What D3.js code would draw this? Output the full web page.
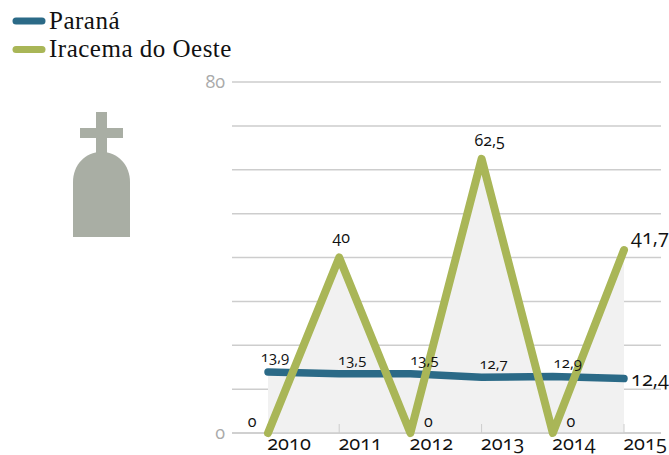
<!DOCTYPE html>
<html lang="en">
<head>
<meta charset="utf-8">
<title>Paraná x Iracema do Oeste</title>
<script src="https://d3js.org/d3.v7.min.js"></script>
<style>
html, body { margin: 0; padding: 0; background: #fff; }
svg { display: block; }
.num { font-family: "Open Sans", sans-serif; font-variant-numeric: oldstyle-nums; font-feature-settings: "onum"; }
.leg { font-family: "Liberation Serif", serif; letter-spacing: 0.5px; }
</style>
</head>
<body>
<script>
var years = ["2010", "2011", "2012", "2013", "2014", "2015"];
var parana = [13.9, 13.5, 13.5, 12.7, 12.9, 12.4];
var iracema = [0, 40, 0, 62.5, 0, 41.7];
var gridValues = [0, 10, 20, 30, 40, 50, 60, 70, 80];
var axisLabels = [0, 80];
var seriesNames = ["Paraná", "Iracema do Oeste"];

var w = 669, h = 455;
var blue = "#2b6a87", green = "#a9b657";

var x = d3.scalePoint().domain(years).range([268, 624]);
var y = d3.scaleLinear().domain([0, 80]).range([433, 82]);

var svg = d3.select("body").append("svg").attr("width", w).attr("height", h);

//grid
svg.selectAll("line.grid").data(gridValues).enter().append("line")
	.attr("class", "grid")
	.attr("x1", 232).attr("x2", 661)
	.attr("y1", function(d) { return y(d); })
	.attr("y2", function(d) { return y(d); })
	.attr("stroke", "#cdcdcd").attr("stroke-width", 1.5);

//grey areas under both series
var area = d3.area()
	.x(function(d, i) { return x(years[i]); })
	.y0(y(0))
	.y1(function(d) { return y(d); });

[parana, iracema].forEach(function(s) {
	svg.append("path").datum(s).attr("fill", "#f1f1f1").attr("d", area);
});

//redraw the base line over the area, with ticks going up
svg.append("line").attr("x1", 232).attr("x2", 661).attr("y1", y(0)).attr("y2", y(0))
	.attr("stroke", "#cdcdcd").attr("stroke-width", 1.5);
svg.selectAll("line.tick").data(years).enter().append("line")
	.attr("class", "tick")
	.attr("x1", function(d) { return x(d); })
	.attr("x2", function(d) { return x(d); })
	.attr("y1", y(0)).attr("y2", y(0) - 9)
	.attr("stroke", "#cdcdcd");

var line = d3.line()
	.x(function(d, i) { return x(years[i]); })
	.y(function(d) { return y(d); });

svg.append("path").datum(parana).attr("d", line)
	.attr("fill", "none").attr("stroke", blue).attr("stroke-width", 7.5)
	.attr("stroke-linecap", "round").attr("stroke-linejoin", "round");
svg.append("path").datum(iracema).attr("d", line)
	.attr("fill", "none").attr("stroke", green).attr("stroke-width", 8)
	.attr("stroke-linecap", "round").attr("stroke-linejoin", "round");

//y labels
svg.selectAll("text.ylab").data(axisLabels).enter().append("text")
	.attr("class", "ylab num")
	.attr("x", 225).attr("y", function(d) { return y(d) + 6; })
	.attr("text-anchor", "end").attr("font-size", 18).attr("fill", "#aaa")
	.text(function(d) { return d; });

//x labels
svg.selectAll("text.xlab").data(years).enter().append("text")
	.attr("class", "xlab num")
	.attr("x", function(d) { return x(d) + 21; })
	.attr("y", 449.5)
	.attr("text-anchor", "middle").attr("font-size", 20).attr("fill", "#111")
	.text(function(d) { return d; });

//value labels
var fmt = function(v) { return String(v).replace(".", ","); };
var paranaDx = [7, 13, 14, 12, 15, 26], paranaDy = [-10, -9, -9, -8, -8, 7];
svg.selectAll("text.pv").data(parana).enter().append("text")
	.attr("class", "pv num")
	.attr("x", function(d, i) { return x(years[i]) + paranaDx[i]; })
	.attr("y", function(d, i) { return y(d) + paranaDy[i]; })
	.attr("text-anchor", "middle")
	.attr("font-size", function(d, i) { return i == 5 ? 20 : 15; })
	.attr("fill", "#111")
	.text(fmt);

var iraDx = [-16, 2, 18, 8, 18, 26], iraDy = [-6, -15, -6, -13, -6, -6];
svg.selectAll("text.iv").data(iracema).enter().append("text")
	.attr("class", "iv num")
	.attr("x", function(d, i) { return x(years[i]) + iraDx[i]; })
	.attr("y", function(d, i) { return y(d) + iraDy[i]; })
	.attr("text-anchor", "middle")
	.attr("font-size", function(d, i) { return i == 5 ? 20 : 16; })
	.attr("fill", "#111")
	.text(fmt);

//legend
var legColors = [blue, green];
seriesNames.forEach(function(n, i) {
	var ly = 21 + i * 28.5;
	svg.append("line").attr("x1", 16).attr("x2", 42).attr("y1", ly).attr("y2", ly)
		.attr("stroke", legColors[i]).attr("stroke-width", 7).attr("stroke-linecap", "round");
	svg.append("text").attr("class", "leg").attr("x", 49).attr("y", ly + 7.5)
		.attr("font-size", 25).attr("fill", "#111").text(n);
});

//tombstone
var stone = svg.append("g").attr("fill", "#a9aea4");
stone.append("rect").attr("x", 96).attr("y", 112).attr("width", 11).attr("height", 42);
stone.append("rect").attr("x", 80).attr("y", 128).attr("width", 43).attr("height", 10);
stone.append("path").attr("d", "M73,237V182C73,165 85,152 101.5,152C118,152 130,165 130,182V237Z");
</script>
</body>
</html>
